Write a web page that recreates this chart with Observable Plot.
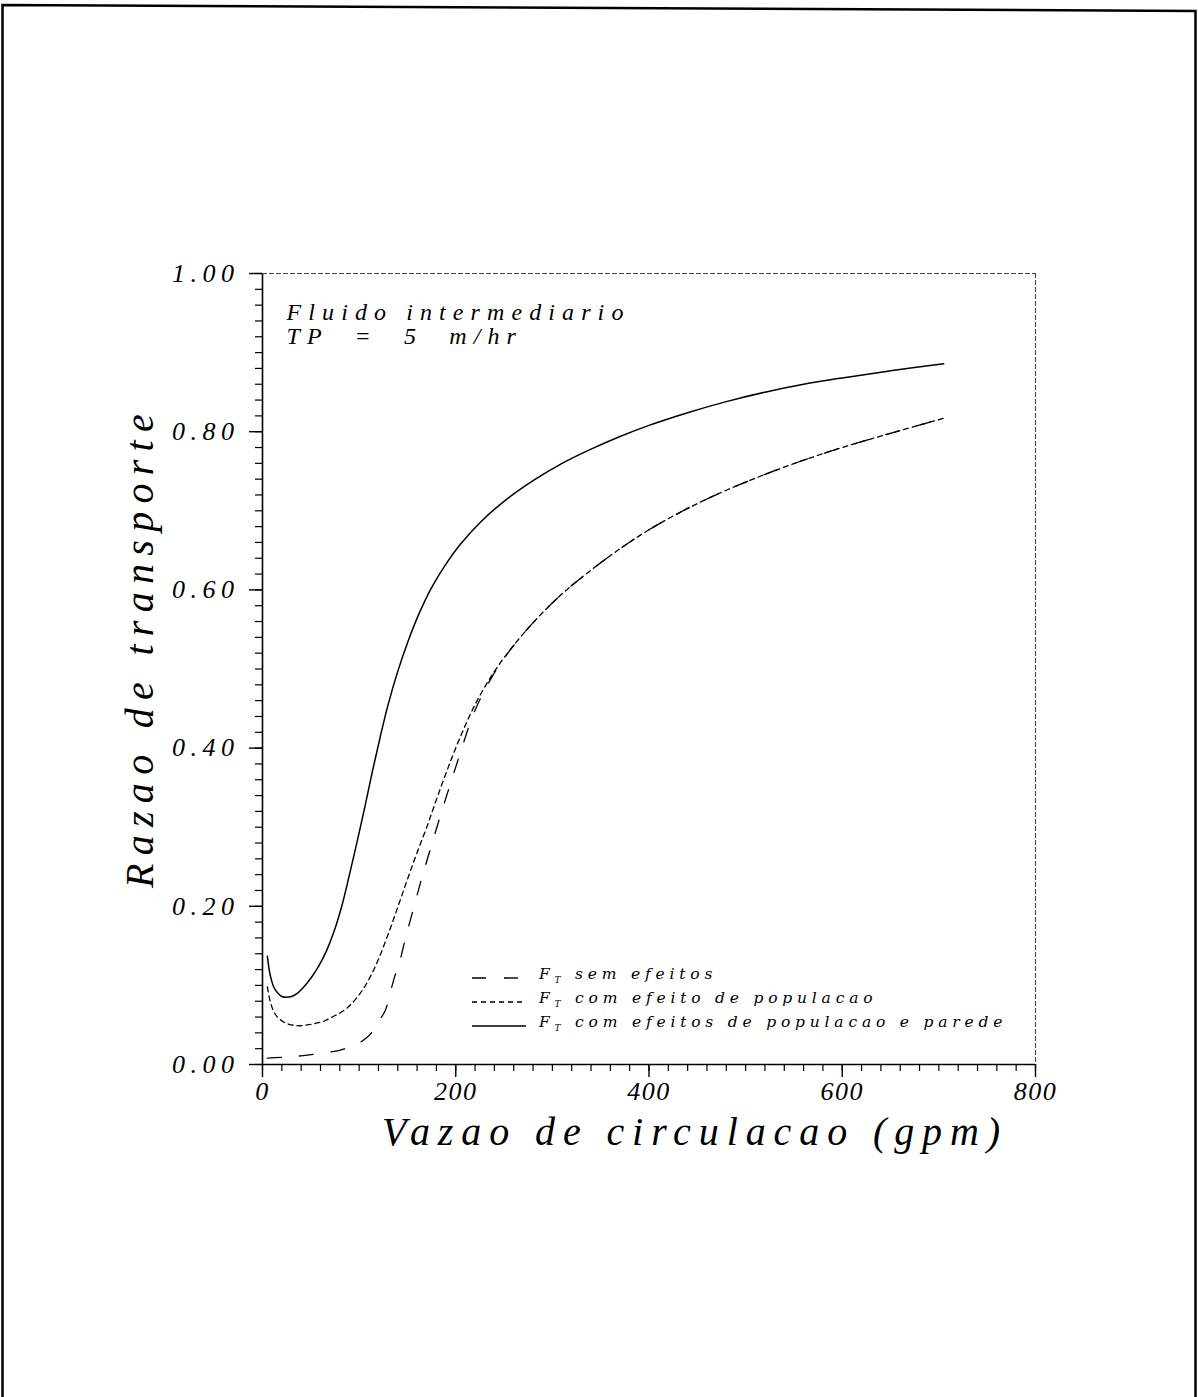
<!DOCTYPE html>
<html>
<head>
<meta charset="utf-8">
<script src="https://cdn.jsdelivr.net/npm/d3@7"></script>
<script src="https://cdn.jsdelivr.net/npm/@observablehq/plot@0.6"></script>
<style>
  html, body { margin: 0; padding: 0; background: #fff; }
  #page { position: relative; width: 1198px; height: 1397px; overflow: hidden; }
  #page > svg.border { position: absolute; left: 0; top: 0; pointer-events: none; }
  .x-tick-labels text { letter-spacing: 1.5px; }
  .y-tick-labels text { letter-spacing: 5.5px; }
  .x-title text { letter-spacing: 7.9px; }
  .y-title text { letter-spacing: 8.3px; }
  .note text { letter-spacing: 7.1px; white-space: pre; }
  .legend text { letter-spacing: 4.8px; }
</style>
</head>
<body>
<div id="page"></div>
<script>
// Vazao de circulacao (gpm) vs razao de transporte, three cases

// F_T com efeitos de populacao e parede (solid)
const gpmParede = [5, 8, 12, 16, 20, 25, 30, 36, 42, 50, 58, 66, 74, 82, 90, 98, 106, 114, 122, 130, 140, 150, 162, 175, 190, 205, 225, 250, 280, 310, 340, 370, 400, 440, 480, 520, 560, 600, 650, 705];
const razaoParede = [0.137, 0.113, 0.097, 0.090, 0.086, 0.085, 0.086, 0.090, 0.097, 0.109, 0.124, 0.143, 0.168, 0.200, 0.240, 0.282, 0.326, 0.372, 0.415, 0.455, 0.497, 0.533, 0.570, 0.603, 0.633, 0.658, 0.685, 0.712, 0.738, 0.760, 0.778, 0.794, 0.808, 0.824, 0.838, 0.850, 0.860, 0.868, 0.877, 0.886];

// F_T com efeito de populacao (short dashes)
const gpmPopulacao = [5, 8, 12, 17, 23, 30, 38, 46, 55, 64, 72, 80, 88, 96, 104, 112, 120, 128, 136, 144, 152, 160, 170, 180, 192, 205, 220, 240, 262, 285, 310, 340, 370, 400, 440, 480, 520, 560, 600, 650, 705];
const razaoPopulacao = [0.098, 0.080, 0.066, 0.058, 0.053, 0.050, 0.049, 0.050, 0.052, 0.055, 0.060, 0.065, 0.072, 0.082, 0.095, 0.112, 0.133, 0.158, 0.185, 0.213, 0.241, 0.268, 0.300, 0.335, 0.375, 0.415, 0.455, 0.497, 0.533, 0.565, 0.595, 0.625, 0.652, 0.676, 0.703, 0.726, 0.746, 0.764, 0.780, 0.798, 0.817];

// F_T sem efeitos (long dashes)
const gpmSemEfeitos = [5, 20, 40, 60, 80, 95, 108, 116, 122, 127, 132, 137, 142, 147, 152, 158, 164, 170, 178, 186, 195, 205, 220, 240, 262, 285, 310, 340, 370, 400, 440, 480, 520, 560, 600, 650, 705];
const razaoSemEfeitos = [0.008, 0.009, 0.011, 0.014, 0.018, 0.024, 0.034, 0.045, 0.058, 0.068, 0.090, 0.112, 0.130, 0.155, 0.178, 0.205, 0.232, 0.257, 0.290, 0.322, 0.357, 0.395, 0.448, 0.495, 0.533, 0.565, 0.595, 0.625, 0.652, 0.676, 0.703, 0.726, 0.746, 0.764, 0.780, 0.798, 0.817];

// Axis ticks and texts
const xMajorTicks = [0, 200, 400, 600, 800];
const xMinorTicks = d3.range(0, 801, 20);
const yMajorTicks = [0, 0.2, 0.4, 0.6, 0.8, 1.0];
const yMinorTicks = d3.range(0, 51).map(i => i / 50);
const xTitle = "Vazao de circulacao (gpm)";
const yTitle = "Razao de transporte";
const note = "Fluido intermediario\nTP \u00a0= \u00a05 \u00a0m/hr";
const legendSub = "T";
const legendLabels = ["sem efeitos", "com efeito de populacao", "com efeitos de populacao e parede"];
const legendDashes = ["14,18", "5,4", null];

const toRows = (xs, ys) => xs.map((x, i) => ({gpm: x, razao: ys[i]}));
const parede = toRows(gpmParede, razaoParede);
const populacao = toRows(gpmPopulacao, razaoPopulacao);
const semEfeitos = toRows(gpmSemEfeitos, razaoSemEfeitos);

const serif = "'Liberation Serif', 'Times New Roman', serif";

// Legend drawn inside the frame, anchored to its lower-left corner
function legend(index, scales, values, dimensions) {
  const g = d3.create("svg:g").attr("class", "legend").attr("text-anchor", "start");
  const left = dimensions.marginLeft + 210;
  const bottom = dimensions.height - dimensions.marginBottom;
  legendLabels.forEach((label, i) => {
    const y = bottom - 90 + i * 24;
    const line = g.append("line")
      .attr("x1", left).attr("x2", left + 54)
      .attr("y1", y + 4).attr("y2", y + 4)
      .attr("stroke", "#000").attr("stroke-width", 1.4);
    if (legendDashes[i]) line.attr("stroke-dasharray", legendDashes[i]);
    const t = g.append("text")
      .attr("x", left + 67).attr("y", y)
      .attr("dy", "0.32em")
      .attr("text-anchor", "start")
      .attr("font-family", "'DejaVu Serif', serif")
      .attr("font-style", "italic")
      .attr("font-size", 15.5);
    t.append("tspan").text("F");
    t.append("tspan").attr("font-size", 9).attr("dy", 4).text(legendSub);
    t.append("tspan").attr("dy", -4).text(" " + label);
  });
  return g.node();
}

const chart = Plot.plot({
  width: 1198,
  height: 1397,
  marginLeft: 262,
  marginRight: 163,
  marginTop: 273,
  marginBottom: 333,
  style: {fontFamily: serif, fontStyle: "italic", fontSize: "24px", background: "transparent", color: "#000"},
  x: {domain: [0, 800]},
  y: {domain: [0, 1]},
  marks: [
    // minor ticks
    Plot.axisX(xMinorTicks, {tickSize: 7, tickFormat: () => "", label: null, strokeWidth: 1.2}),
    Plot.axisY(yMinorTicks, {tickSize: 7, tickFormat: () => "", label: null, strokeWidth: 1.2}),
    // major ticks with labels
    Plot.axisX(xMajorTicks, {tickSize: 13, tickPadding: 4, tickFormat: d => String(d), label: null, strokeWidth: 1.4, fontSize: 26, className: "x-tick-labels"}),
    Plot.axisY(yMajorTicks, {tickSize: 13, tickPadding: 10, tickFormat: d3.format(".2f"), label: null, strokeWidth: 1.4, fontSize: 26, className: "y-tick-labels"}),
    // frame: solid axes, light dotted top and right
    Plot.ruleX([0], {strokeWidth: 1.6}),
    Plot.ruleY([0], {strokeWidth: 1.6}),
    Plot.ruleY([1], {stroke: "#444", strokeWidth: 1.1, strokeDasharray: "5,2"}),
    Plot.ruleX([800], {stroke: "#444", strokeWidth: 1.1, strokeDasharray: "5,2"}),
    // curves
    Plot.line(semEfeitos, {x: "gpm", y: "razao", curve: "catmull-rom", stroke: "#000", strokeWidth: 1.3, strokeDasharray: "14,18"}),
    Plot.line(populacao, {x: "gpm", y: "razao", curve: "catmull-rom", stroke: "#000", strokeWidth: 1.3, strokeDasharray: "5,4"}),
    Plot.line(parede, {x: "gpm", y: "razao", curve: "catmull-rom", stroke: "#000", strokeWidth: 1.5}),
    // annotation
    Plot.text([note], {frameAnchor: "top-left", dx: 24, dy: 30, textAnchor: "start", lineAnchor: "top", lineHeight: 0.98, fontSize: 24, className: "note"}),
    // axis titles
    Plot.text([xTitle], {frameAnchor: "bottom", textAnchor: "middle", dx: 46, dy: 80, fontSize: 40, className: "x-title"}),
    Plot.text([yTitle], {frameAnchor: "left", textAnchor: "middle", rotate: -90, dx: -122, dy: -22, fontSize: 40, className: "y-title"}),
    legend
  ]
});

const page = document.getElementById("page");
page.appendChild(chart);

// page border
const border = d3.select(page).append("svg")
  .attr("class", "border")
  .attr("width", 1198).attr("height", 1397);
border.append("path")
  .attr("d", "M2.5,1397 L2.5,5 L1195.5,11 L1195.5,1397")
  .attr("fill", "none").attr("stroke", "#000").attr("stroke-width", 2.5);
</script>
</body>
</html>
